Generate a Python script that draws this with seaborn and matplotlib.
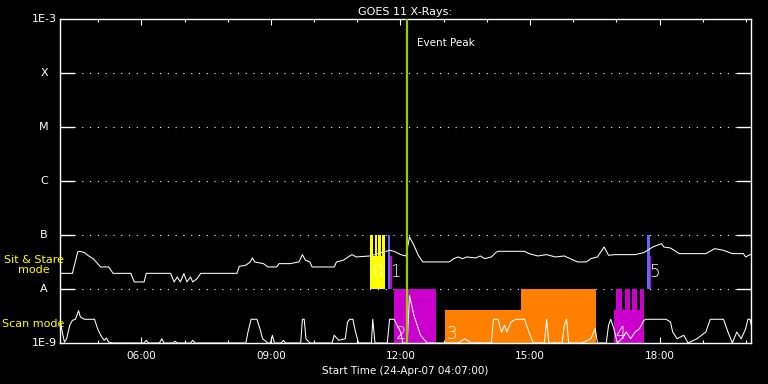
import matplotlib
matplotlib.use("Agg")
import matplotlib.pyplot as plt
import matplotlib.transforms as mtransforms
import seaborn as sns

# ---------------- data ----------------
# GOES X-ray flux (upper white curve), hours of day / W m^-2
goes_hours = [4.117, 4.404, 4.526, 4.578, 4.680, 4.782, 4.885, 4.987, 5.059, 5.243,
              5.346, 5.756, 5.837, 6.063, 6.114, 6.677, 6.759, 6.831, 6.903, 6.985,
              7.056, 7.138, 7.190, 7.292, 7.374, 8.214, 8.265, 8.419, 8.521, 8.572,
              8.624, 8.828, 8.931, 9.136, 9.187, 9.443, 9.648, 9.730, 9.801, 9.904,
              9.955, 10.467, 10.518, 10.672, 10.826, 10.877, 10.979, 11.287, 11.748, 11.850,
              12.004, 12.127, 12.209, 12.311, 12.413, 12.516, 13.130, 13.233, 13.335, 13.438,
              13.540, 13.745, 13.847, 13.950, 14.103, 14.206, 14.257, 14.872, 14.974, 15.179,
              15.384, 15.588, 15.793, 16.101, 16.306, 16.408, 16.561, 16.715, 16.818, 16.971,
              17.227, 17.432, 17.637, 17.842, 17.944, 18.047, 18.098, 18.252, 18.456, 19.071,
              19.276, 19.480, 19.685, 19.941, 19.993, 20.095, 20.117]
goes_flux = [1.95e-8, 1.95e-8, 4.85e-8, 4.99e-8, 4.72e-8, 4.09e-8, 3.65e-8, 2.95e-8, 2.56e-8, 2.56e-8,
             1.95e-8, 1.95e-8, 1.35e-8, 1.35e-8, 1.95e-8, 1.95e-8, 1.35e-8, 1.67e-8, 1.35e-8, 1.93e-8,
             1.35e-8, 1.67e-8, 1.35e-8, 1.56e-8, 1.95e-8, 1.95e-8, 2.62e-8, 2.75e-8, 3.17e-8, 3.76e-8,
             3.17e-8, 2.95e-8, 2.56e-8, 2.56e-8, 2.95e-8, 2.95e-8, 3.17e-8, 4.33e-8, 3.40e-8, 3.17e-8,
             2.56e-8, 2.56e-8, 3.17e-8, 3.40e-8, 4.09e-8, 4.33e-8, 3.92e-8, 4.09e-8, 5.2e-8, 4.99e-8,
             4.33e-8, 4.09e-8, 9.2e-8, 6.45e-8, 4.21e-8, 3.17e-8, 3.17e-8, 3.65e-8, 3.92e-8, 3.65e-8,
             3.92e-8, 3.76e-8, 4.09e-8, 3.65e-8, 3.92e-8, 4.72e-8, 4.99e-8, 4.99e-8, 4.52e-8, 4.09e-8,
             4.33e-8, 3.92e-8, 4.09e-8, 3.17e-8, 3.17e-8, 3.65e-8, 3.92e-8, 6.0e-8, 4.21e-8, 4.33e-8,
             4.33e-8, 4.33e-8, 4.72e-8, 6.0e-8, 6.45e-8, 6.92e-8, 6.0e-8, 5.75e-8, 4.52e-8, 4.52e-8,
             5.59e-8, 5.2e-8, 4.52e-8, 4.52e-8, 3.92e-8, 4.33e-8, 4.33e-8]

# Scan-mode curve (lower white curve)
scan_hours = [4.117, 4.168, 4.219, 4.270, 4.342, 4.404, 4.475, 4.547, 4.588, 4.680,
              4.916, 4.987, 5.059, 5.141, 5.192, 5.243, 5.346, 6.063, 6.114, 6.165,
              6.421, 6.472, 6.524, 6.729, 6.780, 6.831, 7.138, 7.190, 7.241, 8.419,
              8.470, 8.542, 8.675, 8.747, 8.808, 8.931, 8.992, 9.033, 9.084, 9.238,
              9.289, 9.340, 9.689, 9.730, 9.771, 9.812, 9.904, 10.262, 10.416, 10.467,
              10.570, 10.723, 10.774, 10.826, 10.898, 10.959, 11.030, 11.287, 11.328, 11.358,
              11.410, 11.696, 11.748, 11.850, 12.004, 12.055, 12.157, 12.209, 12.311, 12.465,
              12.618, 13.335, 13.489, 13.642, 14.103, 14.154, 14.257, 14.339, 14.411, 14.462,
              14.564, 14.667, 14.872, 14.974, 15.077, 15.333, 15.384, 15.435, 15.742, 15.793,
              15.845, 15.896, 16.203, 16.408, 16.510, 16.561, 16.766, 16.818, 16.869, 16.941,
              17.022, 17.125, 17.227, 17.330, 17.432, 17.535, 17.637, 17.688, 18.149, 18.252,
              18.303, 18.405, 18.559, 18.661, 18.866, 19.071, 19.173, 19.480, 19.583, 19.685,
              19.788, 19.890, 19.993, 20.044, 20.095, 20.157]
scan_flux = [2.75e-9, 1.6e-9, 1.04e-9, 1.2e-9, 2.13e-9, 2.63e-9, 2.75e-9, 3.97e-9, 3.04e-9, 2.75e-9,
             2.75e-9, 1.84e-9, 1.39e-9, 1.12e-9, 1.24e-9, 1.04e-9, 1.0e-9, 1.0e-9, 1.12e-9, 1.0e-9,
             1.0e-9, 1.2e-9, 1.0e-9, 1.0e-9, 1.08e-9, 1.0e-9, 1.0e-9, 1.12e-9, 1.0e-9, 1.0e-9,
             1.6e-9, 2.75e-9, 2.75e-9, 1.84e-9, 1.2e-9, 1.0e-9, 1.0e-9, 1.39e-9, 1.0e-9, 1.0e-9,
             1.12e-9, 1.0e-9, 1.0e-9, 2.75e-9, 2.75e-9, 1.2e-9, 1.0e-9, 1.0e-9, 1.0e-9, 1.39e-9,
             1.12e-9, 1.2e-9, 2.45e-9, 2.75e-9, 2.75e-9, 1.6e-9, 1.0e-9, 1.0e-9, 1.0e-9, 2.75e-9,
             1.0e-9, 1.0e-9, 2.75e-9, 2.75e-9, 1.6e-9, 1.0e-9, 1.0e-9, 7.6e-9, 3.26e-9, 1.39e-9,
             1.0e-9, 1.0e-9, 1.2e-9, 1.0e-9, 1.0e-9, 2.75e-9, 2.75e-9, 1.6e-9, 2.13e-9, 1.6e-9,
             2.45e-9, 2.75e-9, 2.75e-9, 1.6e-9, 1.0e-9, 1.0e-9, 2.75e-9, 1.0e-9, 1.0e-9, 2.13e-9,
             2.75e-9, 1.0e-9, 1.0e-9, 1.2e-9, 1.84e-9, 1.0e-9, 1.0e-9, 2.13e-9, 2.75e-9, 1.84e-9,
             1.0e-9, 1.2e-9, 1.6e-9, 1.2e-9, 1.6e-9, 1.84e-9, 2.63e-9, 2.75e-9, 2.75e-9, 2.45e-9,
             1.6e-9, 1.2e-9, 1.39e-9, 1.0e-9, 1.2e-9, 1.6e-9, 2.75e-9, 2.75e-9, 1.6e-9, 1.0e-9,
             1.6e-9, 1.2e-9, 1.84e-9, 2.75e-9, 2.75e-9, 1.6e-9]

# Observation blocks (hours, flux levels, colour kind)
obs_start = [11.30, 11.40, 11.49, 11.58, 11.30, 11.71, 11.76, 11.86, 13.04, 14.78,
             16.94, 17.00, 17.19, 17.35, 17.54, 17.72, 17.77]
obs_end = [11.37, 11.46, 11.55, 11.65, 11.65, 11.76, 11.80, 12.83, 16.52, 16.52,
           17.63, 17.12, 17.31, 17.47, 17.63, 17.77, 17.81]
obs_bottom = [1e-8, 1e-8, 1e-8, 1e-8, 1e-8, 1e-8, 1e-8, 1e-9, 1e-9, 1e-9,
              1e-9, 1e-9, 1e-9, 1e-9, 1e-9, 1e-8, 1e-8]
obs_top = [1e-7, 1e-7, 1e-7, 1e-7, 4.1e-8, 1e-7, 4.1e-8, 1e-8, 4.1e-9, 1e-8,
           4.1e-9, 1e-8, 1e-8, 1e-8, 1e-8, 1e-7, 4.1e-8]
obs_kind = ["yellow", "yellow", "yellow", "yellow", "yellow", "blue", "magenta", "magenta",
            "orange", "orange", "magenta", "magenta", "magenta", "magenta", "magenta",
            "blue", "magenta"]
kind_colors = {"yellow": "#ffff00", "blue": "#6464ff", "magenta": "#cc00cc", "orange": "#ff8000"}

obs_label_text = ["0", "1", "2", "3", "4", "5"]
obs_label_hour = [11.36, 11.77, 11.89, 13.07, 16.98, 17.76]
obs_label_flux = [2.1e-8, 2.1e-8, 1.45e-9, 1.45e-9, 1.45e-9, 2.1e-8]

level_values = [1e-3, 1e-4, 1e-5, 1e-6, 1e-7, 1e-8, 1e-9]
level_labels = ["1E-3", "X", "M", "C", "B", "A", "1E-9"]
hour_ticks = [6, 9, 12, 15, 18]
hour_labels = ["06:00", "09:00", "12:00", "15:00", "18:00"]
minor_hours = [5, 7, 8, 10, 11, 13, 14, 16, 17, 19, 20]
start_hour = 4 + 7 / 60
end_hour = start_hour + 16
event_peak_hour = 12.16
event_label_flux = 3.6e-4

# ---------------- style ----------------
sns.set_theme(style="ticks")
plt.rcParams["font.family"] = ["DejaVu Sans"]
plt.rcParams["axes.facecolor"] = "black"
plt.rcParams["figure.facecolor"] = "black"

fig = plt.figure(figsize=(7.68, 3.84), dpi=100)
ax = fig.add_axes([60 / 768, 41 / 384, 691 / 768, 324 / 384])
ax.set_facecolor("black")
ax.set_yscale("log")
ax.set_xlim(start_hour, end_hour)
ax.set_ylim(1e-9, 1e-3)

# observation blocks
for s, e, b, t, k in zip(obs_start, obs_end, obs_bottom, obs_top, obs_kind):
    ax.bar(s, t - b, bottom=b, width=e - s, align="edge", color=kind_colors[k],
           linewidth=0, zorder=2)

# curves
sns.lineplot(x=goes_hours, y=goes_flux, ax=ax, color="white", lw=0.75,
             estimator=None, sort=False, zorder=3)
sns.lineplot(x=scan_hours, y=scan_flux, ax=ax, color="white", lw=0.75,
             estimator=None, sort=False, zorder=3)

# level lines
for lv in level_values[1:-1]:
    ax.axhline(lv, xmin=0, xmax=14 / 691, color="white", lw=1.0, zorder=1)
    ax.axhline(lv, xmin=1 - 14 / 691, xmax=1, color="white", lw=1.0, zorder=1)
    ax.axhline(lv, xmin=14 / 691, xmax=1 - 14 / 691, color="white", lw=0.8,
               linestyle=(0, (1, 6.0)), zorder=1)

# event peak
ax.axvline(event_peak_hour, color="#99cc00", lw=1.6, zorder=4)
ax.text(event_peak_hour + 0.23, event_label_flux, "Event Peak",
        color="white", fontsize=7.5, va="center", ha="left", zorder=5)

# block labels
for txt, h, f in zip(obs_label_text, obs_label_hour, obs_label_flux):
    ax.text(h, f, txt, color="white", fontsize=12, fontweight="light",
            ha="left", va="center", zorder=5)

# axes styling
for sp in ax.spines.values():
    sp.set_color("white")
    sp.set_linewidth(1.0)
ax.set_yticks([])
ax.minorticks_off()
ax.set_yticks([], minor=True)
trans = mtransforms.blended_transform_factory(ax.transAxes, ax.transData)
for lv, lab in zip(level_values, level_labels):
    ax.text(-16 / 691, lv, lab, transform=trans, color="white", fontsize=8,
            ha="center", va="center")

ax.set_xticks(hour_ticks)
ax.set_xticklabels(hour_labels)
ax.set_xticks(minor_hours, minor=True)
ax.tick_params(axis="x", which="major", direction="in", length=4.5, width=0.8,
               colors="white", top=True, bottom=True, labelsize=7.5, pad=6)
ax.tick_params(axis="x", which="minor", direction="in", length=2.5, width=0.8,
               colors="white", top=True, bottom=True)
ax.set_xlabel("Start Time (24-Apr-07 04:07:00)", color="white", fontsize=7.5, labelpad=3)
ax.set_ylabel("")
ax.set_title("GOES 11 X-Rays:", color="white", fontsize=8, pad=3)

# side labels
fig.text(34 / 768, 1 - 265 / 384, "Sit & Stare\nmode", color="#ffff00", fontsize=8,
         ha="center", va="center", linespacing=1.0)
fig.text(2 / 768, 1 - 324 / 384, "Scan mode", color="#ffff00", fontsize=8,
         ha="left", va="center")

fig.savefig("out.png", dpi=100, facecolor="black")
